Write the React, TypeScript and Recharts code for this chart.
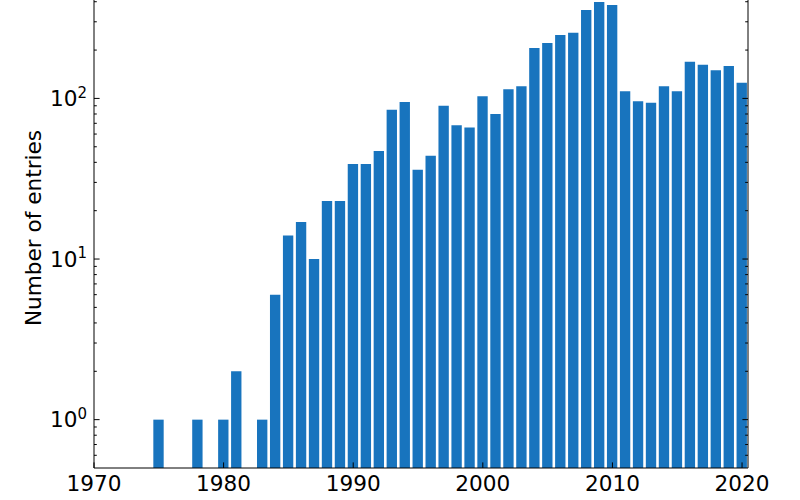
import React from 'react';
import { BarChart, Bar, XAxis, YAxis } from 'recharts';

const years = [1975, 1978, 1980, 1981, 1983, 1984, 1985, 1986, 1987, 1988, 1989, 1990, 1991, 1992, 1993, 1994, 1995, 1996, 1997, 1998, 1999, 2000, 2001, 2002, 2003, 2004, 2005, 2006, 2007, 2008, 2009, 2010, 2011, 2012, 2013, 2014, 2015, 2016, 2017, 2018, 2019, 2020];
const entries = [1, 1, 1, 2, 1, 6, 14, 17, 10, 23, 23, 39, 39, 47, 85, 95, 36, 44, 90, 68, 66, 103, 80, 114, 119, 206, 221, 248, 256, 355, 398, 382, 111, 96, 94, 119, 111, 169, 162, 150, 159, 125];
const xTicks = [1970, 1980, 1990, 2000, 2010, 2020];
const majorY = [1, 10, 100];
const yTicks = [0.6, 0.7, 0.8, 0.9, 1, 2, 3, 4, 5, 6, 7, 8, 9, 10, 20, 30, 40, 50, 60, 70, 80, 90, 100, 200, 300, 400];

const data = years.map((y, i) => ({ year: y, count: entries[i] }));

const FONT = '"DejaVu Sans", sans-serif';
const FS = 21.6;

const LeftTick = (props: any) => {
  const { x, y, payload } = props;
  const v = payload.value;
  const major = majorY.includes(v);
  const exp = Math.round(Math.log10(v));
  return (
    <g>
      <line x1={x} x2={x + (major ? 5.6 : 2.8)} y1={y} y2={y} stroke="#000" strokeWidth={1} />
      {major && (
        <text x={x - 7} y={y + 7.8} textAnchor="end" fontSize={FS} fontFamily={FONT} fill="#000">
          <tspan>10</tspan>
          <tspan dy={-8.5} fontSize={15}>{exp}</tspan>
        </text>
      )}
    </g>
  );
};

const RightTick = (props: any) => {
  const { x, y, payload } = props;
  const v = payload.value;
  const major = majorY.includes(v);
  return <line x1={x} x2={x - (major ? 5.6 : 2.8)} y1={y} y2={y} stroke="#000" strokeWidth={1} />;
};

const BottomTick = (props: any) => {
  const { x, y, payload } = props;
  return (
    <g>
      <line x1={x} x2={x} y1={y} y2={y - 5.6} stroke="#000" strokeWidth={1} />
      <text x={x} y={y + 22.5} textAnchor="middle" fontSize={FS} fontFamily={FONT} fill="#000">
        {payload.value}
      </text>
    </g>
  );
};

export default function App() {
  return (
    <div style={{ position: 'absolute', left: 0, top: 0, width: 800, height: 500 }}>
      <BarChart width={800} height={500} data={data} margin={{ top: 0, right: 0, bottom: 0, left: 0 }}>
        <XAxis
          dataKey="year"
          type="number"
          domain={[1970, 2020.46]}
          allowDataOverflow
          ticks={xTicks}
          interval={0}
          height={32}
          tickSize={0}
          tickMargin={0}
          tickLine={false}
          axisLine={{ stroke: '#000', strokeWidth: 1 }}
          tick={<BottomTick />}
        />
        <YAxis
          yAxisId="left"
          scale="log"
          domain={[0.5, 410]}
          allowDataOverflow
          ticks={yTicks}
          interval={0}
          width={94}
          tickSize={0}
          tickMargin={0}
          tickLine={false}
          axisLine={{ stroke: '#000', strokeWidth: 1 }}
          tick={<LeftTick />}
          label={{
            value: 'Number of entries',
            angle: -90,
            position: 'insideLeft',
            content: () => (
              <text
                x={41}
                y={228}
                transform="rotate(-90 41 228)"
                textAnchor="middle"
                fontSize={FS}
                fontFamily={FONT}
                fill="#000"
              >
                Number of entries
              </text>
            ),
          }}
        />
        <YAxis
          yAxisId="right"
          orientation="right"
          scale="log"
          domain={[0.5, 410]}
          allowDataOverflow
          ticks={yTicks}
          interval={0}
          width={52}
          tickSize={0}
          tickMargin={0}
          tickLine={false}
          axisLine={{ stroke: '#000', strokeWidth: 1 }}
          tick={<RightTick />}
        />
        <Bar yAxisId="left" dataKey="count" fill="#1874be" barSize={10.36} isAnimationActive={false} />
      </BarChart>
    </div>
  );
}
